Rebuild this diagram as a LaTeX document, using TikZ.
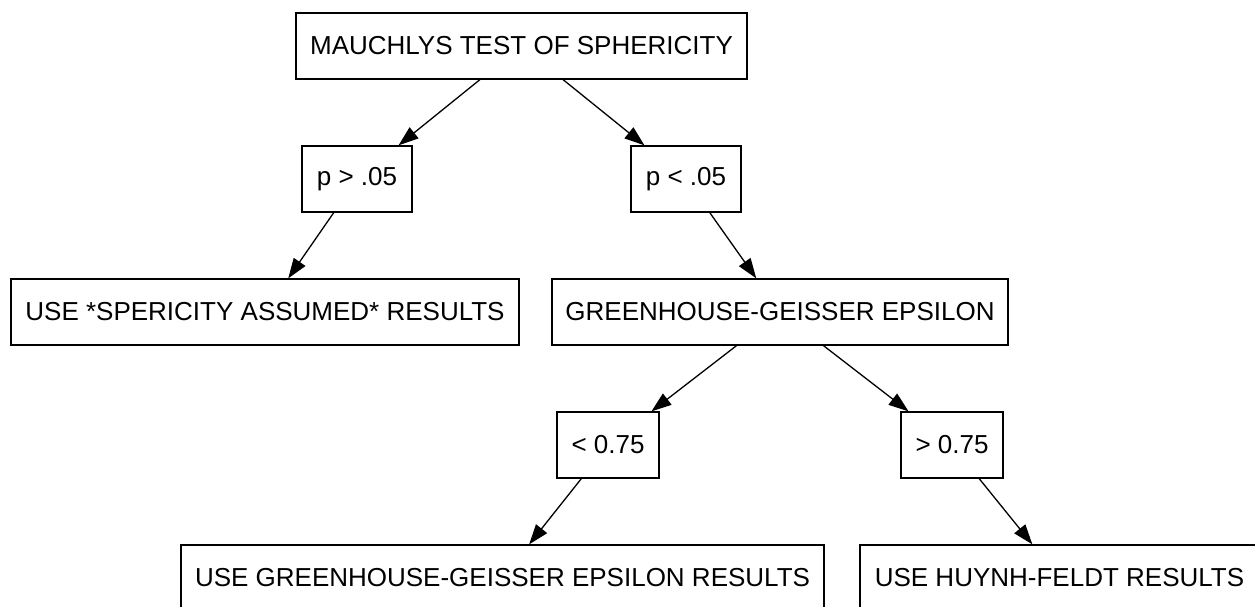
\documentclass[tikz,border=0pt]{standalone}
\usepackage{fontspec}
\setmainfont{Liberation Sans}
\usetikzlibrary{arrows.meta}
\tikzstyle{box}=[rectangle,draw,minimum height=66pt,inner xsep=0pt,font=\fontsize{26}{30}\selectfont]
\tikzstyle{every path}+=[line width=1.3pt]
\tikzstyle{arr}=[-{Triangle[length=20pt,width=14pt]}]
\newcommand{\drawarrows}[2][]{
	\foreach \a/\b in {#2}{
		\draw[arr,#1] (\a) edge (\b);
	}
}

\begin{document}
\begin{tikzpicture}[x=1pt,y=1pt]
\useasboundingbox (0,0) rectangle (1255,-607);
% test and p values
\node[box,minimum width=451pt] (mt) at (521.5,-46) {MAUCHLYS TEST OF SPHERICITY};
\node[box,minimum width=110pt] (pgt) at (357,-179) {p > .05};
\node[box,minimum width=110pt] (plt) at (686,-179) {p < .05};

% results / epsilon
\node[box,minimum width=508pt] (sph) at (265,-312) {USE *SPERICITY ASSUMED* RESULTS};
\node[box,minimum width=456pt] (gge) at (780,-312) {GREENHOUSE-GEISSER EPSILON};
\node[box,minimum width=102pt] (lo) at (608,-445) {< 0.75};
\node[box,minimum width=102pt] (hi) at (952,-445) {> 0.75};

% final results
\node[box,minimum width=643pt] (ggr) at (502.5,-578) {USE GREENHOUSE-GEISSER EPSILON RESULTS};
\node[box,minimum width=399pt] (hf) at (1059.5,-578) {USE HUYNH-FELDT RESULTS};

\drawarrows{mt/pgt,mt/plt,pgt/sph,plt/gge,gge/lo,gge/hi,lo/ggr,hi/hf}
\end{tikzpicture}
\end{document}
